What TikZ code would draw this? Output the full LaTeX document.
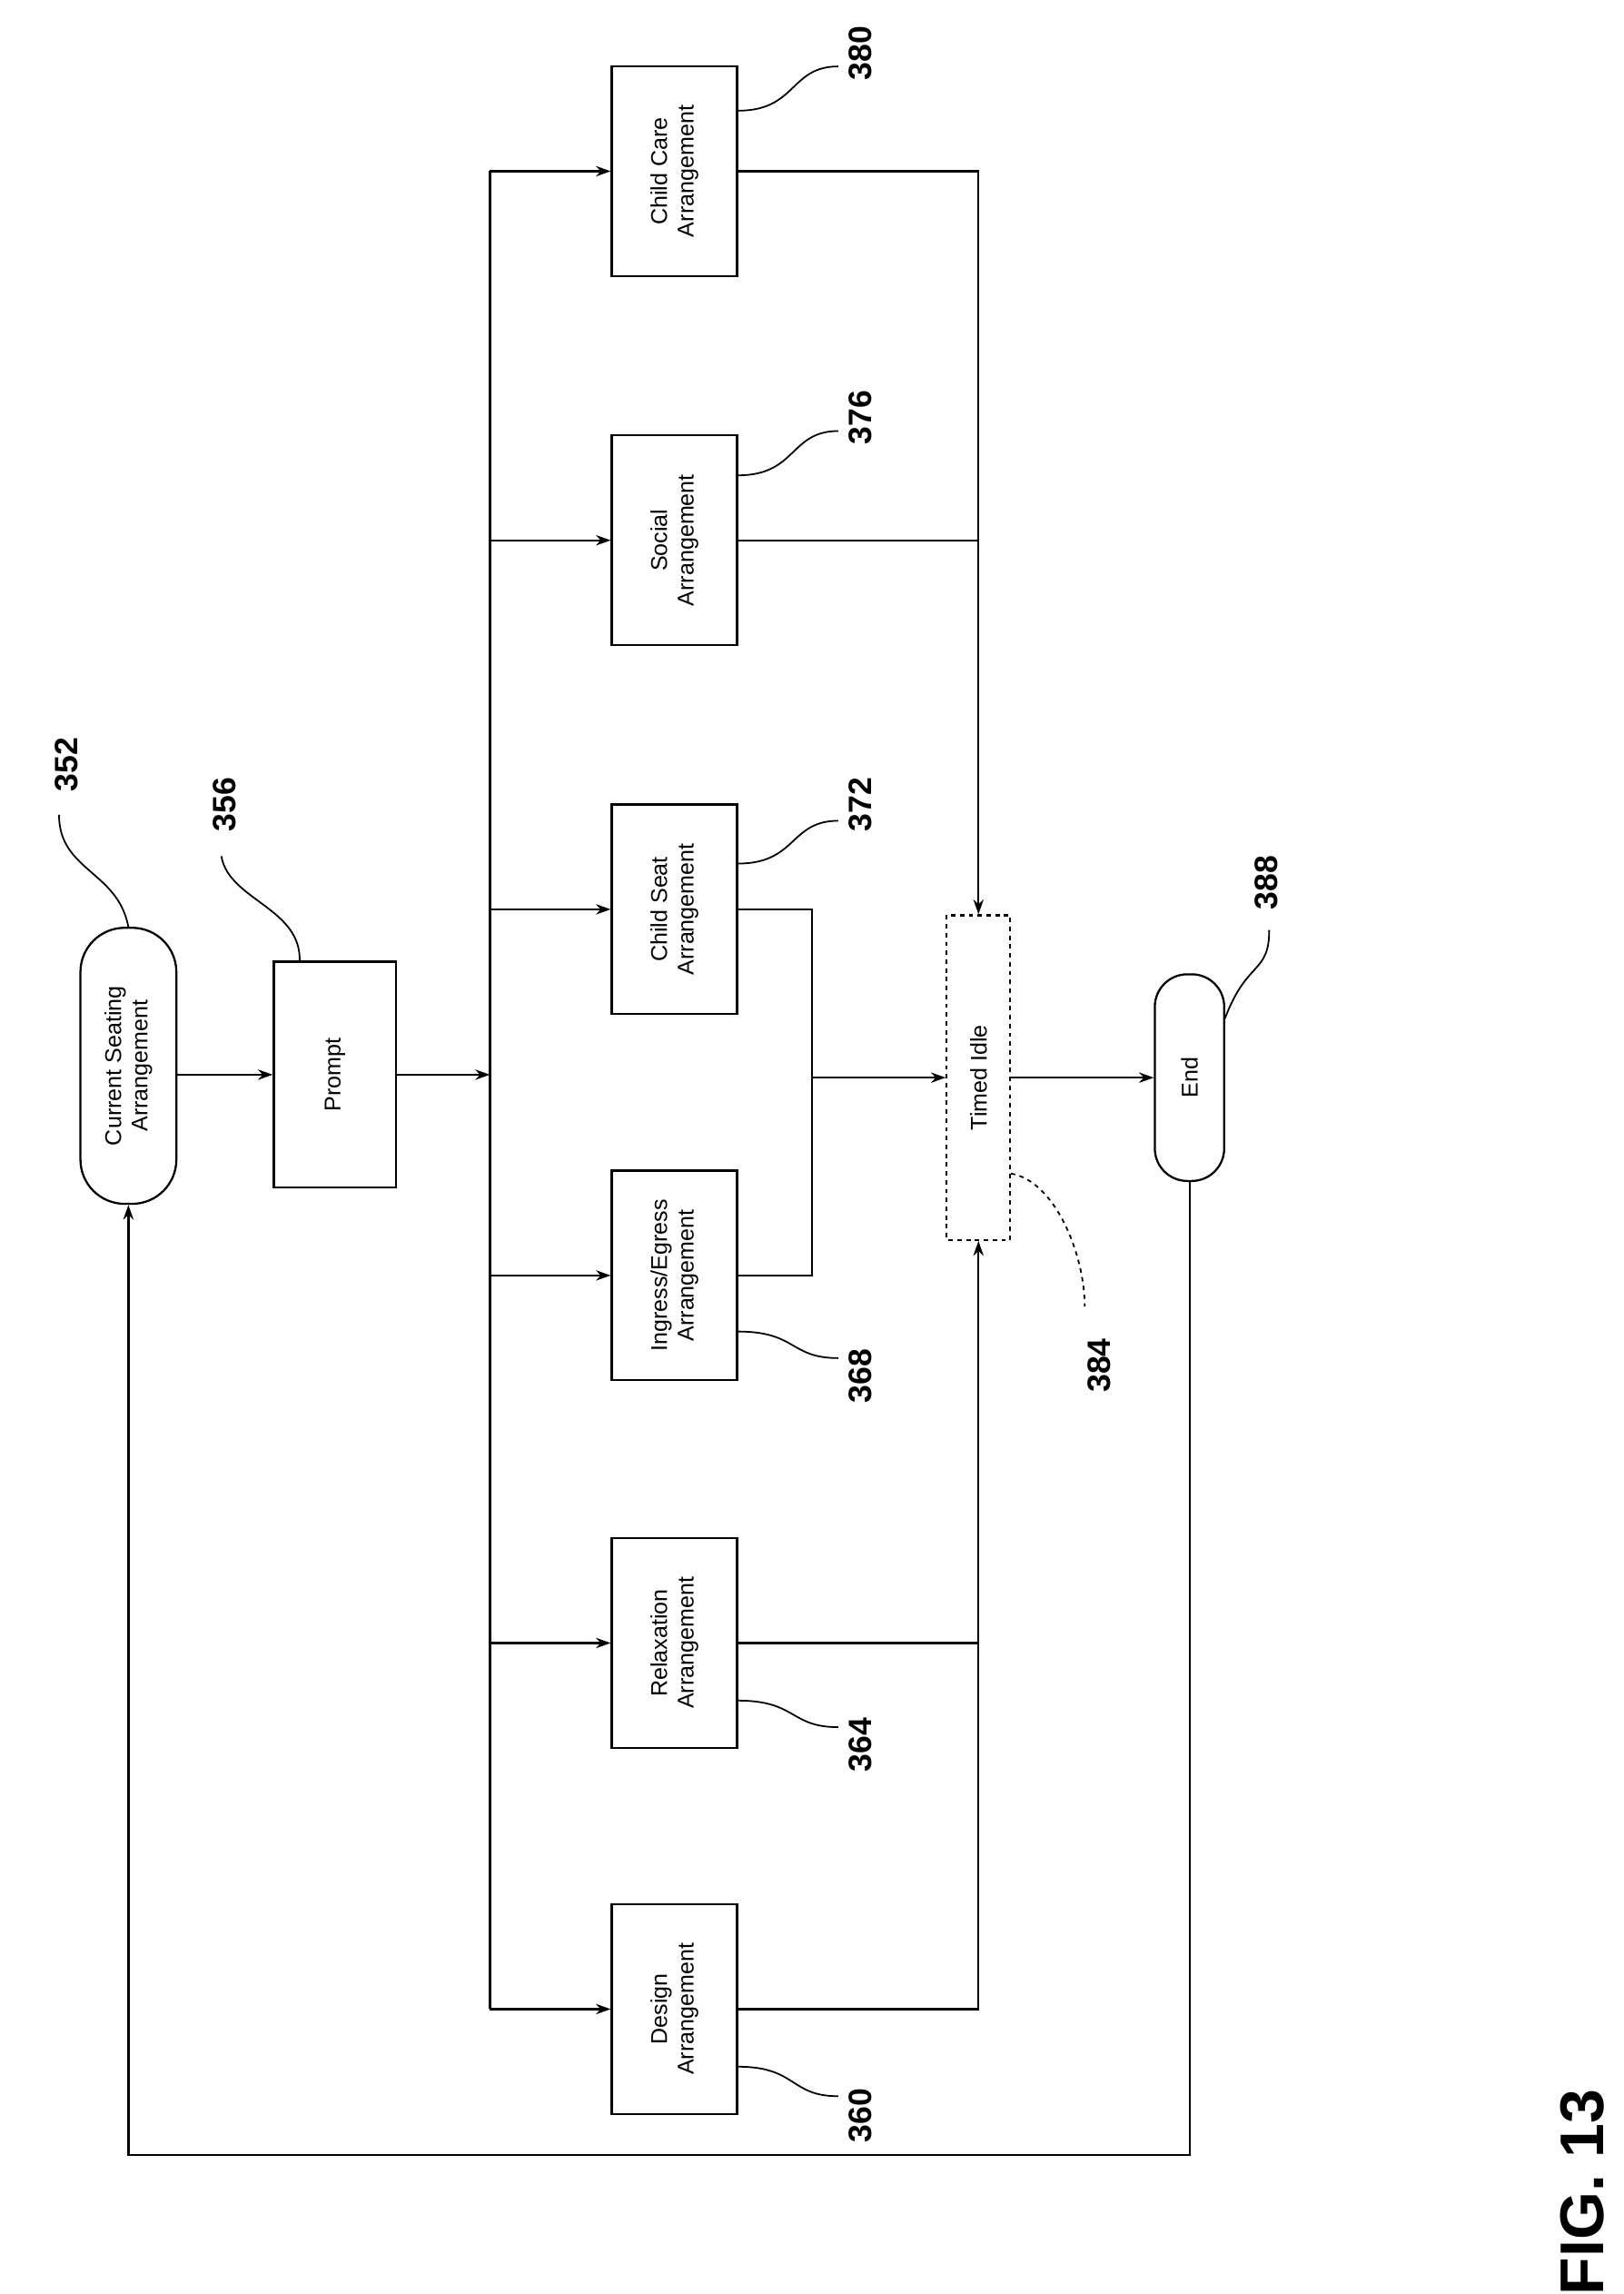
\documentclass[tikz,border=0pt]{standalone}
\usepackage{fontspec}
\setmainfont{Liberation Sans}
\usetikzlibrary{arrows.meta}
\begin{document}
\begin{tikzpicture}[x=1bp,y=-1bp,
  box/.style={draw,line width=1.4bp,rotate=90,minimum width=142bp,minimum height=85bp,align=center,font=\fontsize{15.5}{18}\selectfont,inner sep=1bp},
  pill/.style={box,rounded corners=30bp},
  lab/.style={rotate=90,font=\bfseries\fontsize{22}{24}\selectfont},
  ln/.style={line width=1.4bp},
  ar/.style={ln,-{Stealth[length=10bp,width=7bp]}},
  lead/.style={line width=1.1bp}]
\useasboundingbox (0,0) rectangle (1100,1554);
\node[pill,minimum width=187bp,minimum height=65bp] (cs) at (87,722) {Current Seating\\Arrangement};
\node[box,minimum width=153bp,minimum height=83bp] (pr) at (227,728) {Prompt};
\node[box] (cc) at (457,116) {Child Care\\Arrangement};
\node[box] (so) at (457,366) {Social\\Arrangement};
\node[box] (cse) at (457,616) {Child Seat\\Arrangement};
\node[box] (ie) at (457,864) {Ingress/Egress\\Arrangement};
\node[box] (re) at (457,1113) {Relaxation\\Arrangement};
\node[box] (de) at (457,1361) {Design\\Arrangement};
\node[box,dashed,minimum width=220bp,minimum height=43bp] (ti) at (663,730) {Timed Idle};
\node[pill,minimum width=140bp,minimum height=47bp,rounded corners=22bp] (en) at (806,730) {End};
\coordinate (tt) at (332,116); \coordinate (tb) at (332,1361);
\coordinate (tm) at (332,728);
\draw[ln] (tt) -- (tb);
\draw[ar] (cs.south |- pr) -- (pr.north);
\draw[ar] (pr.south) -- (tm);
\foreach \n in {cc,so,cse,ie,re,de} \draw[ar] (\n.north -| tt) -- (\n.north);
\draw[ar] (cc.south) -- (663,116) -- (ti.east);
\draw[ln] (so.south) -- (663,366);
\draw[ln] (cse.south) -- (550,616) -- (550,864) -- (ie.south);
\coordinate (jm) at (550,730);
\draw[ar] (jm) -- (ti.north);
\draw[ar] (de.south) -- (663,1361) -- (ti.west);
\draw[ln] (re.south) -- (663,1113);
\draw[ar] (ti.south) -- (en.north);
\draw[ar] (en.west) -- (806,1460) -- (87,1460) -- (cs.west);
% labels
\node[lab] (l352) at (45,518) {352};
\node[lab] (l356) at (152,545) {356};
\node[lab] (l380) at (583,36) {380};
\node[lab] (l376) at (583,283) {376};
\node[lab] (l372) at (583,545) {372};
\node[lab] (l368) at (583,932) {368};
\node[lab] (l364) at (583,1182) {364};
\node[lab] (l360) at (583,1433) {360};
\node[lab] (l388) at (858,598) {388};
\node[lab] (l384) at (745,925) {384};
\coordinate (e352) at (40,552); \coordinate (e356) at (150,580);
\coordinate (e380) at (568,45); \coordinate (e376) at (568,292);
\coordinate (e372) at (568,556); \coordinate (e368) at (568,920);
\coordinate (e364) at (568,1170); \coordinate (e360) at (568,1420);
\coordinate (e388) at (860,630); \coordinate (e384) at (735,885);
\draw[lead] (87,628) .. controls (80,590) and (40,590) .. (e352);
\draw[lead] (203,652) .. controls (205,615) and (155,610) .. (e356);
\draw[lead] (500,75) .. controls (540,75) and (535,45) .. (e380);
\draw[lead] (500,322) .. controls (540,322) and (535,292) .. (e376);
\draw[lead] (500,585) .. controls (540,585) and (535,556) .. (e372);
\draw[lead] (500,902) .. controls (540,902) and (535,920) .. (e368);
\draw[lead] (500,1152) .. controls (540,1152) and (535,1170) .. (e364);
\draw[lead] (500,1400) .. controls (540,1400) and (535,1420) .. (e360);
\draw[lead] (830,690) .. controls (845,650) and (860,660) .. (e388);
\draw[lead,dashed] (685,795) .. controls (715,800) and (735,850) .. (e384);
\node[rotate=90,font=\bfseries\fontsize{42}{44}\selectfont] (fig) at (1072,1485) {FIG. 13};
\end{tikzpicture}
\end{document}
